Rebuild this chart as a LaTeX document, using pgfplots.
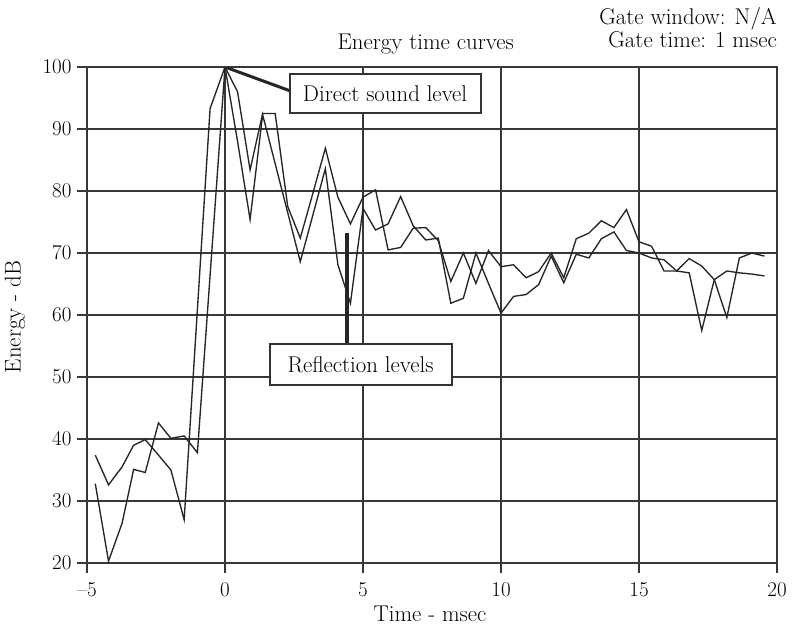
\documentclass[border=0pt]{standalone}
\usepackage{pgfplots}
\pgfplotsset{compat=1.18}
\begin{document}
\begin{tikzpicture}[font=\fontsize{22.8bp}{26bp}\selectfont]
\useasboundingbox (0,0) rectangle (796bp,633bp);
\begin{axis}[
  at={(87bp,70bp)}, anchor=south west,
  scale only axis, width=690bp, height=496bp,
  xmin=-5, xmax=20, ymin=20, ymax=100,
  xtick={-5,0,5,10,15,20},
  xticklabels={--5,0,5,10,15,20},
  ytick={20,30,...,100},
  tick pos=left,
  grid=major,
  grid style={draw=black!78, line width=1.7bp},
  axis line style={draw=black!78, line width=1.7bp},
  tick style={draw=black!78, line width=1.7bp},
  tick align=outside,
  major tick length=10bp,
  tick label style={font=\fontsize{21bp}{24bp}\selectfont},
  xticklabel style={yshift=-6bp},
  yticklabel style={xshift=-2bp},
  /pgf/number format/assume math mode=true,
  axis background/.style={fill=white},
]
\addplot[black!85, line width=1.35bp] coordinates {
(-4.70,37.4) (-4.22,32.6) (-3.73,35.5) (-3.31,39.0) (-2.89,39.9) (-2.41,37.4)
(-1.96,35.0) (-1.48,27.0) (-1.00,60.9) (-0.54,93.3) (0,100)
(0.455,96.0) (0.909,83.4) (1.364,92.5) (1.818,92.5) (2.273,77.5) (2.727,72.4)
(3.182,79.6) (3.636,86.9) (4.091,79.0) (4.545,74.7) (5.000,79.0) (5.455,80.2)
(5.909,70.5) (6.364,70.9) (6.818,74.0) (7.273,74.1) (7.727,72.0) (8.182,65.4)
(8.636,70.0) (9.091,65.1) (9.545,70.4) (10.000,67.8) (10.455,68.1) (10.909,66.0)
(11.364,67.0) (11.818,70.0) (12.273,66.0) (12.727,72.3) (13.182,73.2) (13.636,75.2)
(14.091,74.1) (14.545,77.0) (15.000,71.8) (15.455,71.1) (15.909,67.1) (16.364,67.1)
(16.818,66.8) (17.273,57.5) (17.727,65.7) (18.182,67.1) (18.636,66.8) (19.091,66.6)
(19.545,66.3)
};
\addplot[black!85, line width=1.35bp] coordinates {
(-4.70,32.8) (-4.22,20.3) (-3.73,26.4) (-3.31,35.1) (-2.89,34.6) (-2.41,42.6)
(-1.96,40.1) (-1.48,40.5) (-1.00,37.8) (-0.54,66.4) (0,100)
(0.455,88.0) (0.909,75.4) (1.364,92.3) (1.818,84.4) (2.273,76.5) (2.727,68.6)
(3.182,76.1) (3.636,83.6) (4.091,68.1) (4.545,61.9) (5.000,77.2) (5.455,73.7)
(5.909,74.7) (6.364,79.1) (6.818,74.4) (7.273,72.1) (7.727,72.4) (8.182,61.9)
(8.636,62.7) (9.091,70.0) (9.545,65.1) (10.000,60.3) (10.455,63.0) (10.909,63.3)
(11.364,64.9) (11.818,69.5) (12.273,65.2) (12.727,69.8) (13.182,69.2) (13.636,72.3)
(14.091,73.4) (14.545,70.4) (15.000,70.0) (15.455,69.2) (15.909,68.9) (16.364,67.1)
(16.818,69.1) (17.273,67.9) (17.727,65.7) (18.182,59.6) (18.636,69.2) (19.091,70.0)
(19.545,69.5)
};
\draw[line width=3bp, black!85] (axis cs:0,100) -- (axis cs:2.33,96.2);
\node[draw=black!80, line width=2bp, fill=white, minimum width=191bp, minimum height=39bp, inner sep=0pt]
  at (axis cs:5.80,95.7) {Direct sound level};
\draw[line width=4bp, black!85] (axis cs:4.41,73.2) -- (axis cs:4.41,55.3);
\node[draw=black!80, line width=2bp, fill=white, minimum width=182bp, minimum height=41bp, inner sep=0pt]
  at (axis cs:4.91,52.0) {Reflection levels};
\end{axis}
\node[anchor=base] at (425.7bp,583bp) {Energy time curves};
\node[anchor=base east, inner sep=0pt] at (777bp,608bp) {Gate window: N/A};
\node[anchor=base east, inner sep=0pt] at (777bp,585bp) {Gate time: 1 msec};
\node[rotate=90] at (15bp,316bp) {Energy - dB};
\node[anchor=base] at (430bp,12bp) {Time - msec};
\end{tikzpicture}
\end{document}
